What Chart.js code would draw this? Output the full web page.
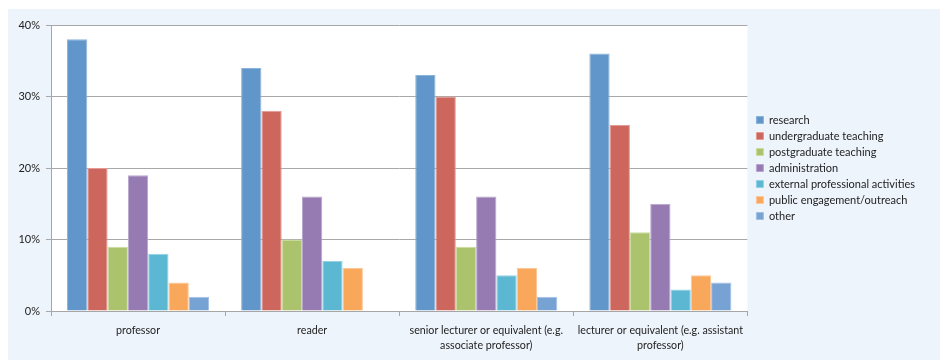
<!DOCTYPE html>
<html>
<head>
<meta charset="utf-8">
<script src="https://cdn.jsdelivr.net/npm/chart.js@4/dist/chart.umd.min.js"></script>
<style>
  html, body { margin: 0; padding: 0; background: #ffffff; }
  #panel { position: absolute; left: 8px; top: 9px; width: 932px; height: 351px; background: #eef4fc; }
  #wrap { position: absolute; left: 0; top: 0; width: 940px; height: 360px; }
</style>
</head>
<body>
<div id="panel"></div>
<div id="wrap"><canvas id="chart" width="940" height="360"></canvas></div>
<script>
// Share of working time by activity, per academic grade (percent)
const categories = [
  'professor',
  'reader',
  ['senior lecturer or equivalent (e.g.', 'associate professor)'],
  ['lecturer or equivalent (e.g. assistant', 'professor)']
];
const seriesNames = [
  'research',
  'undergraduate teaching',
  'postgraduate teaching',
  'administration',
  'external professional activities',
  'public engagement/outreach',
  'other'
];
const research        = [38, 34, 33, 36];
const undergraduate   = [20, 28, 30, 26];
const postgraduate    = [9, 10, 9, 11];
const administration  = [19, 16, 16, 15];
const external        = [8, 7, 5, 3];
const publicOutreach  = [4, 6, 6, 5];
const other           = [2, null, 2, 4];
const yTicks = [0, 10, 20, 30, 40];

const fills   = ['#6096ca', '#cd665d', '#abc36c', '#957bb1', '#5cb8d2', '#f9a75a', '#76a2d4'];
const borders = ['#8cb3dc', '#e39a93', '#cbdc9e', '#b9a6cf', '#94d2e3', '#fbc698', '#a3c0e4'];
const seriesData = [research, undergraduate, postgraduate, administration, external, publicOutreach, other];

// White plot area on the tinted panel
const plotBackground = {
  id: 'plotBackground',
  beforeDraw(chart) {
    const { ctx, chartArea: a } = chart;
    ctx.save();
    ctx.fillStyle = '#ffffff';
    ctx.fillRect(a.left, a.top, a.right - a.left, a.bottom - a.top);
    ctx.restore();
  }
};

// Leave a small gap between the plot and the legend
const legendGap = {
  id: 'legendGap',
  afterLayout(chart) {
    if (chart.legend) {
      chart.legend.left += 4;
      chart.legend.right += 4;
    }
  }
};

const fontFamily = 'Lato, "Open Sans", sans-serif';

new Chart(document.getElementById('chart'), {
  type: 'bar',
  data: {
    labels: categories,
    datasets: seriesNames.map((name, i) => ({
      label: name,
      data: seriesData[i],
      backgroundColor: fills[i],
      borderColor: borders[i],
      borderWidth: 1,
      borderSkipped: 'bottom',
      barPercentage: 1,
      categoryPercentage: 0.816
    }))
  },
  options: {
    responsive: false,
    animation: false,
    devicePixelRatio: 1,
    layout: { padding: { top: 25, left: 0, bottom: 0, right: 19 } },
    plugins: {
      tooltip: { enabled: false },
      legend: {
        position: 'right',
        fullSize: false,
        align: 'center',
        labels: {
          boxWidth: 7,
          boxHeight: 7,
          padding: 5,
          color: '#222222',
          font: { family: fontFamily, size: 11 }
        }
      }
    },
    scales: {
      x: {
        afterFit(scale) { scale.height = 49; },
        grid: {
          offset: true,
          drawOnChartArea: false,
          drawTicks: true,
          tickLength: 5,
          color: '#a6a6a6'
        },
        border: { color: '#a6a6a6', width: 1 },
        ticks: {
          color: '#222222',
          font: { family: fontFamily, size: 10.7, lineHeight: 1.4 },
          padding: 7,
          maxRotation: 0,
          autoSkip: false
        }
      },
      y: {
        min: 0,
        max: 40,
        afterFit(scale) { scale.width = 51; },
        afterBuildTicks(scale) { scale.ticks = yTicks.map(v => ({ value: v })); },
        grid: {
          color: '#a8a8a8',
          lineWidth: 1,
          tickLength: 5
        },
        border: { color: '#a6a6a6', width: 1 },
        ticks: {
          color: '#222222',
          font: { family: fontFamily, size: 11 },
          padding: 6,
          callback: v => v + '%'
        }
      }
    }
  },
  plugins: [plotBackground, legendGap]
});
</script>
</body>
</html>
